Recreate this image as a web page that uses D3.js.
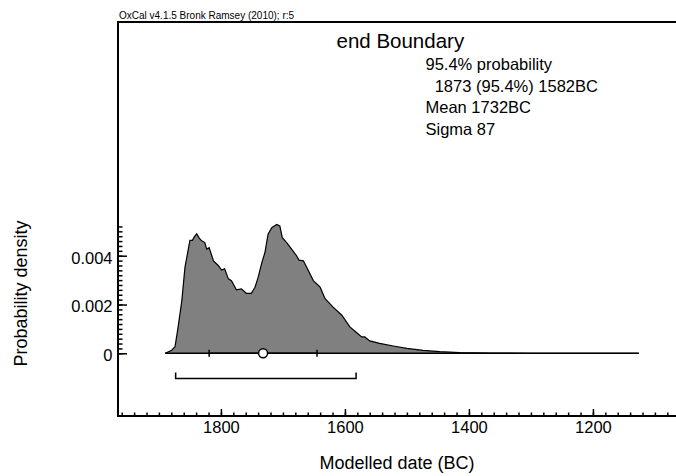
<!DOCTYPE html>
<html>
<head>
<meta charset="utf-8">
<script src="https://cdnjs.cloudflare.com/ajax/libs/d3/7.8.5/d3.min.js"></script>
<style>
	body { margin: 0; background: #fff; }
	svg { display: block; font-family: "Liberation Sans", Arial, sans-serif; }
	.axis path { display: none; }
	.axis line { stroke: #000; stroke-width: 1.5; }
	.axis text { font-size: 16.5px; fill: #000; }
</style>
</head>
<body>
<div class="viz"></div>
<script>
	// Values (years BC, probability density)
	var years = [1890, 1880, 1874, 1869, 1863, 1858, 1850, 1846, 1843, 1839, 1835, 1831, 1826, 1823, 1819,
		1812, 1804, 1799, 1794, 1788, 1783, 1775, 1767, 1759, 1751, 1745, 1740, 1734, 1729, 1724, 1718,
		1710, 1705, 1701, 1694, 1686, 1678, 1674, 1667, 1659, 1651, 1640, 1632, 1619, 1605, 1592, 1581,
		1573, 1568, 1560, 1544, 1522, 1500, 1474, 1447, 1415, 1366, 1300, 1200, 1126];
	var density = [0, 0.00011, 0.00027, 0.00108, 0.00217, 0.00352, 0.00463, 0.00463, 0.00477, 0.0049, 0.00472,
		0.00461, 0.00454, 0.00427, 0.00433, 0.00379, 0.00359, 0.00341, 0.00346, 0.00305, 0.00298, 0.0026,
		0.00264, 0.00246, 0.00246, 0.00271, 0.00311, 0.00372, 0.00413, 0.00488, 0.00515, 0.00528, 0.00522,
		0.00474, 0.00454, 0.00427, 0.004, 0.00382, 0.00379, 0.00339, 0.00298, 0.00271, 0.00224, 0.00189,
		0.00156, 0.00108, 0.00084, 0.00067, 0.00067, 0.00051, 0.00041, 0.0003, 0.0002, 0.00012, 0.000065,
		0.00003, 0.00001, 0.000003, 0.000001, 0];

	var rangeFrom = 1873, rangeTo = 1582;
	var meanYear = 1732, sigma = 87;

	var header = 'OxCal v4.1.5 Bronk Ramsey (2010); r:5';
	var title = 'end Boundary';
	var infoLines = ['95.4% probability', '  1873 (95.4%) 1582BC', 'Mean 1732BC', 'Sigma 87'];

	var xMajor = [1800, 1600, 1400, 1200];
	var xMinor = d3.range(1960, 1066, -20);
	var yMajor = [0, 0.002, 0.004];
	var yMinor = d3.range(0, 0.00521, 0.0002);

	var width = 676, height = 476;

	var svg = d3.select('.viz')
		.append('svg')
		.attr('width', width)
		.attr('height', height);

	// Scales (x runs from older to younger dates)
	var xScale = d3.scaleLinear()
		.domain([1966, 1066])
		.range([118, 676]);

	var yScale = d3.scaleLinear()
		.domain([-0.00257, 0.01358])
		.range([416, 22]);

	// distribution
	var area = d3.area()
		.x(function(d, i){ return xScale(years[i]); })
		.y0(yScale(0))
		.y1(function(d){ return yScale(d); });

	var line = d3.line()
		.x(function(d, i){ return xScale(years[i]); })
		.y(function(d){ return yScale(d); });

	svg.append('path')
		.datum(density)
		.attr('d', area)
		.attr('fill', '#808080');

	svg.append('path')
		.datum(density)
		.attr('d', line)
		.attr('fill', 'none')
		.attr('stroke', '#000')
		.attr('stroke-width', 1.2);

	// baseline under the distribution
	svg.append('line')
		.attr('x1', xScale(years[0]))
		.attr('x2', xScale(years[years.length - 1]))
		.attr('y1', yScale(0))
		.attr('y2', yScale(0))
		.attr('stroke', '#000')
		.attr('stroke-width', 1.5);

	// mean +- sigma
	svg.append('line')
		.attr('x1', xScale(meanYear + sigma))
		.attr('x2', xScale(meanYear - sigma))
		.attr('y1', yScale(0))
		.attr('y2', yScale(0))
		.attr('stroke', '#000')
		.attr('stroke-width', 1.5);

	[meanYear + sigma, meanYear - sigma].forEach(function(v){
		svg.append('line')
			.attr('x1', xScale(v)).attr('x2', xScale(v))
			.attr('y1', yScale(0) - 3.5).attr('y2', yScale(0) + 3.5)
			.attr('stroke', '#000')
			.attr('stroke-width', 1.5);
	});

	svg.append('circle')
		.attr('cx', xScale(meanYear))
		.attr('cy', yScale(0))
		.attr('r', 4.5)
		.attr('fill', '#fff')
		.attr('stroke', '#000')
		.attr('stroke-width', 1.5);

	// 95.4% range bracket
	var bracketY = 378.5;
	svg.append('path')
		.attr('d', 'M' + xScale(rangeFrom) + ',' + (bracketY - 6) +
			'V' + bracketY + 'H' + xScale(rangeTo) + 'V' + (bracketY - 6))
		.attr('fill', 'none')
		.attr('stroke', '#000')
		.attr('stroke-width', 1.5);

	// Axes
	svg.append('g')
		.attr('class', 'x axis')
		.attr('transform', 'translate(0,416)')
		.call(d3.axisBottom(xScale).tickValues(xMinor).tickSize(-3.5).tickFormat(''));

	svg.append('g')
		.attr('class', 'x axis')
		.attr('transform', 'translate(0,416)')
		.call(d3.axisBottom(xScale).tickValues(xMajor).tickSize(-7).tickPadding(5).tickFormat(d3.format('d')));

	svg.append('g')
		.attr('class', 'y axis')
		.attr('transform', 'translate(118,0)')
		.call(d3.axisLeft(yScale).tickValues(yMinor).tickSize(-4.5).tickFormat(''));

	svg.append('g')
		.attr('class', 'y axis')
		.attr('transform', 'translate(118,0)')
		.call(d3.axisLeft(yScale).tickValues(yMajor).tickSize(-9).tickPadding(5.5)
			.tickFormat(function(d){ return d === 0 ? '0' : d3.format('.3f')(d); }))
		.selectAll('text').attr('dy', '0.45em');

	// frame (left, top, bottom)
	svg.append('path')
		.attr('d', 'M676,22H118V416H676')
		.attr('fill', 'none')
		.attr('stroke', '#000')
		.attr('stroke-width', 2);

	// texts
	svg.append('text')
		.attr('x', 119)
		.attr('y', 19)
		.style('font-size', '10px')
		.text(header);

	svg.append('text')
		.attr('x', 336.5)
		.attr('y', 47.5)
		.style('font-size', '20.5px')
		.text(title);

	svg.selectAll('.info')
		.data(infoLines)
		.enter().append('text')
		.attr('class', 'info')
		.attr('x', 425.5)
		.attr('y', function(d, i){ return 70 + i * 21.7; })
		.style('font-size', '16.5px')
		.style('white-space', 'pre')
		.text(function(d){ return d; });

	svg.append('text')
		.attr('transform', 'translate(26.5,293.5) rotate(-90)')
		.attr('text-anchor', 'middle')
		.style('font-size', '18px')
		.text('Probability density');

	svg.append('text')
		.attr('x', 397)
		.attr('y', 469)
		.attr('text-anchor', 'middle')
		.style('font-size', '18px')
		.text('Modelled date (BC)');
</script>
</body>
</html>
